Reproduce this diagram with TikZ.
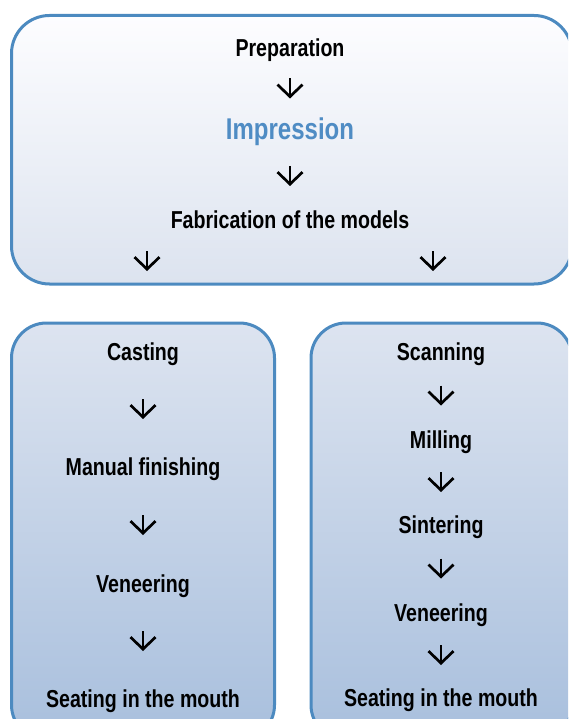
\documentclass[tikz, border = 0pt]{standalone}
\usepackage{fontspec}
\setmainfont{Liberation Sans}[FakeStretch = 0.8]
\usetikzlibrary{arrows.meta, calc}

\definecolor{boxblue}{RGB}{76, 138, 192}
\definecolor{imprblue}{RGB}{79, 140, 196}
\definecolor{topwhite}{RGB}{253, 253, 255}
\definecolor{topgrey}{RGB}{220, 227, 239}
\definecolor{lowtop}{RGB}{221, 228, 240}
\definecolor{lowbottom}{RGB}{168, 191, 221}

\begin{document}
\begin{tikzpicture}[x = 1pt, y = -1pt,
	stepnode/.style = {inner sep = 0pt, anchor = base, text height = 17pt, text depth = 0pt, font = \fontsize{24.5}{29}\selectfont\bfseries},
	keynode/.style = {stepnode, text height = 20pt, text = imprblue, font = \fontsize{30}{35}\selectfont\bfseries},
	flow/.style = {line width = 2.7pt, line join = miter, -{Straight Barb[length = 12pt, width = 25pt]}},
	panel/.style = {draw = boxblue, line width = 3pt, rounded corners = 38pt}]
	\useasboundingbox (0, 0) rectangle (568, 719);
	\clip (0, 0) rectangle (568, 719);
	
	\draw[panel, top color = topwhite, bottom color = topgrey] (11.5, 15.5) rectangle (572, 284);
	\draw[panel, rounded corners = 35pt, top color = lowtop, bottom color = lowbottom] (11.5, 323) rectangle (274.5, 740);
	\draw[panel, rounded corners = 35pt, top color = lowtop, bottom color = lowbottom] (311, 323) rectangle (572, 740);
	
	\node[stepnode] (prep) at (290, 57) {Preparation};
	\node[keynode] (impr) at (290, 140) {Impression};
	\node[stepnode] (fab) at (290, 229) {Fabrication of the models};
	
	\node[stepnode] (cast) at (143, 360) {Casting};
	\node[stepnode] (manu) at (143, 475) {Manual finishing};
	\node[stepnode] (venL) at (143, 592) {Veneering};
	\node[stepnode] (seatL) at (143, 707) {Seating in the mouth};
	
	\node[stepnode] (scan) at (441, 360) {Scanning};
	\node[stepnode] (mill) at (441, 448) {Milling};
	\node[stepnode] (sint) at (441, 533) {Sintering};
	\node[stepnode] (venR) at (441, 621) {Veneering};
	\node[stepnode] (seatR) at (441, 706) {Seating in the mouth};
	
	\foreach \a/\b in {prep/impr, impr/fab, cast/manu, manu/venL, venL/seatL, scan/mill, mill/sint, sint/venR, venR/seatR}
	\draw[flow] ($(\a.south)!0.5!(\b.north) + (0, -10)$) -- ++(0, 20);
	
	\coordinate (splitL) at (147, 251);
	\coordinate (splitR) at (433, 251);
	\draw[flow] (splitL) -- ++(0, 20);
	\draw[flow] (splitR) -- ++(0, 20);
\end{tikzpicture}
\end{document}
